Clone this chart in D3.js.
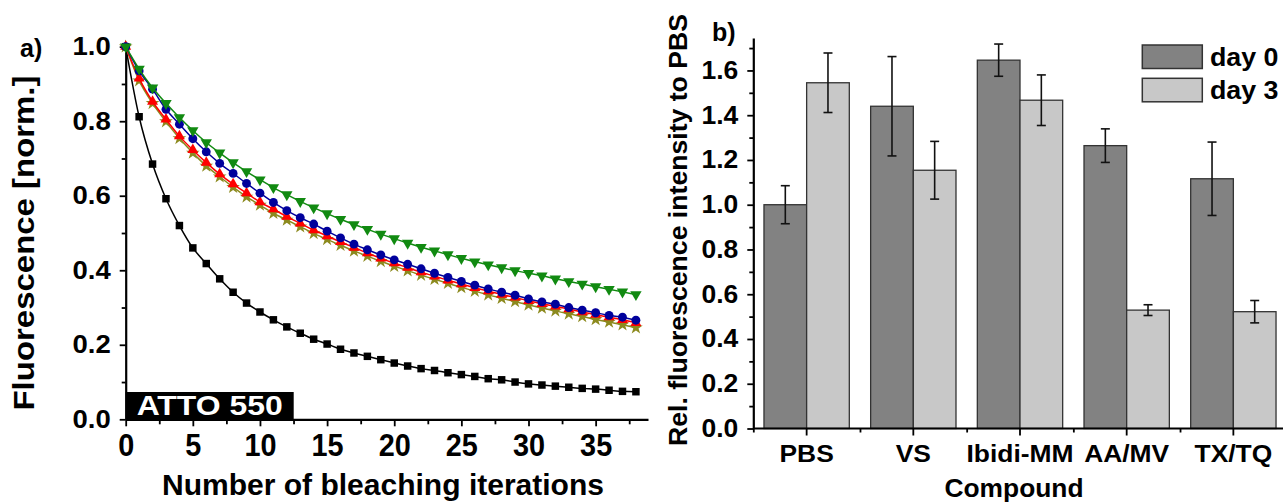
<!DOCTYPE html>
<html>
<head>
<meta charset="utf-8">
<script src="https://cdn.jsdelivr.net/npm/d3@7"></script>
<style>
  body { margin: 0; background: #fff; }
  svg { display: block; font-family: "Liberation Sans", Arial, sans-serif; font-weight: bold; }
</style>
</head>
<body>
<svg id="chart" width="1283" height="502"></svg>
<script>
// ---- panel a) bleaching curves ----
const iterations = [0,1,2,3,4,5,6,7,8,9,10,11,12,13,14,15,16,17,18,19,20,21,22,23,24,25,26,27,28,29,30,31,32,33,34,35,36,37,38];
const blackVals = [1.0,0.812,0.685,0.592,0.52,0.46,0.418,0.377,0.341,0.312,0.288,0.267,0.248,0.231,0.215,0.202,0.188,0.178,0.169,0.16,0.151,0.143,0.136,0.131,0.125,0.12,0.115,0.109,0.106,0.1,0.095,0.092,0.089,0.086,0.083,0.081,0.078,0.075,0.074];
const olive = [1.0,0.909,0.848,0.799,0.754,0.715,0.68,0.651,0.623,0.597,0.575,0.553,0.535,0.517,0.499,0.483,0.467,0.452,0.438,0.424,0.411,0.399,0.387,0.376,0.365,0.354,0.344,0.334,0.325,0.316,0.307,0.299,0.291,0.283,0.276,0.268,0.261,0.254,0.246];
const red = [1.0,0.915,0.853,0.805,0.76,0.723,0.689,0.658,0.631,0.607,0.583,0.564,0.544,0.526,0.508,0.492,0.476,0.461,0.446,0.432,0.419,0.407,0.395,0.384,0.373,0.363,0.353,0.344,0.335,0.327,0.318,0.31,0.303,0.296,0.288,0.281,0.274,0.267,0.259];
const blue = [1.0,0.935,0.886,0.832,0.792,0.753,0.718,0.687,0.66,0.633,0.607,0.582,0.56,0.541,0.524,0.505,0.487,0.47,0.455,0.441,0.428,0.416,0.404,0.392,0.381,0.37,0.36,0.35,0.341,0.333,0.323,0.315,0.309,0.3,0.293,0.286,0.279,0.274,0.266];
const green = [1.0,0.94,0.89,0.848,0.81,0.775,0.743,0.715,0.689,0.665,0.643,0.622,0.603,0.585,0.568,0.552,0.537,0.523,0.51,0.497,0.485,0.473,0.462,0.452,0.442,0.432,0.423,0.415,0.407,0.399,0.392,0.385,0.377,0.37,0.363,0.356,0.349,0.342,0.335];
const xTicksA = [0,5,10,15,20,25,30,35];
const yTicksA = [0,0.2,0.4,0.6,0.8,1.0];

// ---- panel b) bars ----
const compounds = ["PBS","VS","Ibidi-MM","AA/MV","TX/TQ"];
const groups = ["day 0","day 3"];
const day0 = [1.0,1.44,1.646,1.264,1.116];
const day0Err = [0.085,0.222,0.072,0.075,0.164];
const day3 = [1.545,1.154,1.467,0.529,0.522];
const day3Err = [0.133,0.129,0.113,0.024,0.05];
const yTicksB = [0,0.2,0.4,0.6,0.8,1.0,1.2,1.4,1.6];

const svg = d3.select("#chart");

// widen/narrow text to the width seen in the picture
function stretch(sel, k) {
  sel.each(function () {
    const w = this.getComputedTextLength();
    d3.select(this).attr("textLength", w * k).attr("lengthAdjust", "spacingAndGlyphs");
  });
}

// ================= panel a =================
const xA = d3.scaleLinear().domain([0, 38.9]).range([125.7, 648]);
const yA = d3.scaleLinear().domain([0, 1]).range([419.3, 46.7]);

const gA = svg.append("g");

// minor ticks
gA.append("g").attr("transform", "translate(0,419.3)")
  .call(d3.axisBottom(xA).tickValues([2.5,7.5,12.5,17.5,22.5,27.5,32.5,37.5]).tickSize(5).tickFormat(""))
  .call(g => g.select(".domain").remove());
gA.append("g").attr("transform", "translate(125.7,0)")
  .call(d3.axisLeft(yA).tickValues([0.1,0.3,0.5,0.7,0.9]).tickSize(4).tickFormat(""))
  .call(g => g.select(".domain").remove());

const xAxisA = gA.append("g").attr("transform", "translate(0,419.3)")
  .call(d3.axisBottom(xA).tickValues(xTicksA).tickSize(7).tickPadding(8).tickSizeOuter(0));
xAxisA.selectAll("text").attr("font-size", 31).call(stretch, 0.93);

const yAxisA = gA.append("g").attr("transform", "translate(125.7,0)")
  .call(d3.axisLeft(yA).tickValues(yTicksA).tickFormat(d3.format(".1f")).tickSize(6).tickPadding(9).tickSizeOuter(0));
yAxisA.selectAll("text").attr("font-size", 25).call(stretch, 1.1);

[xAxisA, yAxisA].forEach(a => a.select(".domain").attr("stroke-width", 2.2));
gA.selectAll(".tick line").attr("stroke-width", 1.8);

// ATTO 550 label box
gA.append("rect").attr("x", xA(0)).attr("y", 392).attr("width", 168).attr("height", yA(0) - 392).attr("fill", "#000");
gA.append("text").attr("x", xA(0) + 11).attr("y", 415).attr("fill", "#fff")
  .attr("font-size", 28).text("ATTO 550")
  .attr("textLength", 146).attr("lengthAdjust", "spacingAndGlyphs");

const seriesA = [
  { vals: blackVals, color: "#000000", sym: d3.symbolSquare, size: 56, rot: 0 },
  { vals: olive, color: "#8c8a1e", sym: d3.symbolStar, size: 58, rot: 0 },
  { vals: red, color: "#ff0000", sym: d3.symbolTriangle, size: 52, rot: 0 },
  { vals: blue, color: "#00009c", sym: d3.symbolCircle, size: 62, rot: 0 },
  { vals: green, color: "#118a11", sym: d3.symbolTriangle, size: 56, rot: 180 }
];

const lineA = d3.line().x(d => xA(d[0])).y(d => yA(d[1])).curve(d3.curveMonotoneX);

seriesA.forEach(s => {
  const pts = iterations.map((it, i) => [it, s.vals[i]]);
  gA.append("path").attr("d", lineA(pts)).attr("fill", "none")
    .attr("stroke", s.color).attr("stroke-width", 1.5);
  gA.append("g").selectAll("path").data(pts).join("path")
    .attr("d", d3.symbol(s.sym, s.size))
    .attr("transform", d => `translate(${xA(d[0])},${yA(d[1])}) rotate(${s.rot})`)
    .attr("fill", s.color);
});

// titles
gA.append("text").attr("x", 383).attr("y", 495).attr("text-anchor", "middle")
  .attr("font-size", 30).text("Number of bleaching iterations")
  .attr("textLength", 442).attr("lengthAdjust", "spacingAndGlyphs");
gA.append("text").attr("transform", "translate(34,243) rotate(-90)").attr("text-anchor", "middle")
  .attr("font-size", 29).text("Fluorescence [norm.]")
  .attr("textLength", 335).attr("lengthAdjust", "spacingAndGlyphs");
gA.append("text").attr("x", 20).attr("y", 57).attr("font-size", 25).text("a)");

// ================= panel b =================
const xB = d3.scaleBand().domain(compounds).range([753.3, 1286.7]).paddingInner(0.2).paddingOuter(0.1);
const xSub = d3.scaleBand().domain(groups).range([0, xB.bandwidth()]);
const yB = d3.scaleLinear().domain([0, 1.745]).range([428.5, 38]);
const colorB = d3.scaleOrdinal().domain(groups).range(["#828282", "#c8c8c8"]);

const gB = svg.append("g");

const barData = [];
compounds.forEach((c, i) => {
  barData.push({ c, g: "day 0", v: day0[i], e: day0Err[i] });
  barData.push({ c, g: "day 3", v: day3[i], e: day3Err[i] });
});

gB.selectAll("rect.bar").data(barData).join("rect").attr("class", "bar")
  .attr("x", d => xB(d.c) + xSub(d.g))
  .attr("y", d => yB(d.v))
  .attr("width", xSub.bandwidth())
  .attr("height", d => yB(0) - yB(d.v))
  .attr("fill", d => colorB(d.g))
  .attr("stroke", "#333").attr("stroke-width", 1.3);

const errG = gB.append("g").attr("stroke", "#111").attr("stroke-width", 1.6);
barData.forEach(d => {
  const cx = xB(d.c) + xSub(d.g) + xSub.bandwidth() / 2;
  errG.append("line").attr("x1", cx).attr("x2", cx).attr("y1", yB(d.v + d.e)).attr("y2", yB(d.v - d.e));
  errG.append("line").attr("x1", cx - 4.5).attr("x2", cx + 4.5).attr("y1", yB(d.v + d.e)).attr("y2", yB(d.v + d.e));
  errG.append("line").attr("x1", cx - 4.5).attr("x2", cx + 4.5).attr("y1", yB(d.v - d.e)).attr("y2", yB(d.v - d.e));
});

// minor ticks for panel b
const stepB = xB.step();
const boundaries = compounds.map((c, i) => 753.3 + i * stepB);
const xBound = d3.scaleLinear().domain([0, 1283]).range([0, 1283]);
gB.append("g").attr("transform", "translate(0,428.5)")
  .call(d3.axisBottom(xBound).tickValues(boundaries).tickSize(4).tickFormat(""))
  .call(g => g.select(".domain").remove());
gB.append("g").attr("transform", "translate(753.3,0)")
  .call(d3.axisLeft(yB).tickValues([0.1,0.3,0.5,0.7,0.9,1.1,1.3,1.5,1.7]).tickSize(4).tickFormat(""))
  .call(g => g.select(".domain").remove());

const xAxisB = gB.append("g").attr("transform", "translate(0,428.5)")
  .call(d3.axisBottom(xB).tickSize(7).tickPadding(9).tickSizeOuter(0));
xAxisB.select(".domain").attr("d", "M753.3,0H1283");
xAxisB.selectAll("text").attr("font-size", 24).call(stretch, 1.1);

const yAxisB = gB.append("g").attr("transform", "translate(753.3,0)")
  .call(d3.axisLeft(yB).tickValues(yTicksB).tickFormat(d3.format(".1f")).tickSize(6).tickPadding(9).tickSizeOuter(0));
yAxisB.selectAll("text").attr("font-size", 25).call(stretch, 1.06);

[xAxisB, yAxisB].forEach(a => a.select(".domain").attr("stroke-width", 2.2));
gB.selectAll(".tick line").attr("stroke-width", 1.8);

// legend
const legend = gB.append("g");
groups.forEach((g, i) => {
  legend.append("rect").attr("x", 1142.3).attr("y", 45 + i * 33.3).attr("width", 60).attr("height", 23.5)
    .attr("fill", colorB(g)).attr("stroke", "#333").attr("stroke-width", 1.5);
  legend.append("text").attr("x", 1210).attr("y", 66 + i * 32.5).attr("font-size", 26).text(g)
    .call(stretch, 1.03);
});

// titles
gB.append("text").attr("x", 1014).attr("y", 497).attr("text-anchor", "middle")
  .attr("font-size", 25).text("Compound")
  .attr("textLength", 139).attr("lengthAdjust", "spacingAndGlyphs");
gB.append("text").attr("transform", "translate(687,230) rotate(-90)").attr("text-anchor", "middle")
  .attr("font-size", 25).text("Rel. fluorescence intensity to PBS")
  .attr("textLength", 432).attr("lengthAdjust", "spacingAndGlyphs");
gB.append("text").attr("x", 712).attr("y", 41).attr("font-size", 25).text("b)");
</script>
</body>
</html>
